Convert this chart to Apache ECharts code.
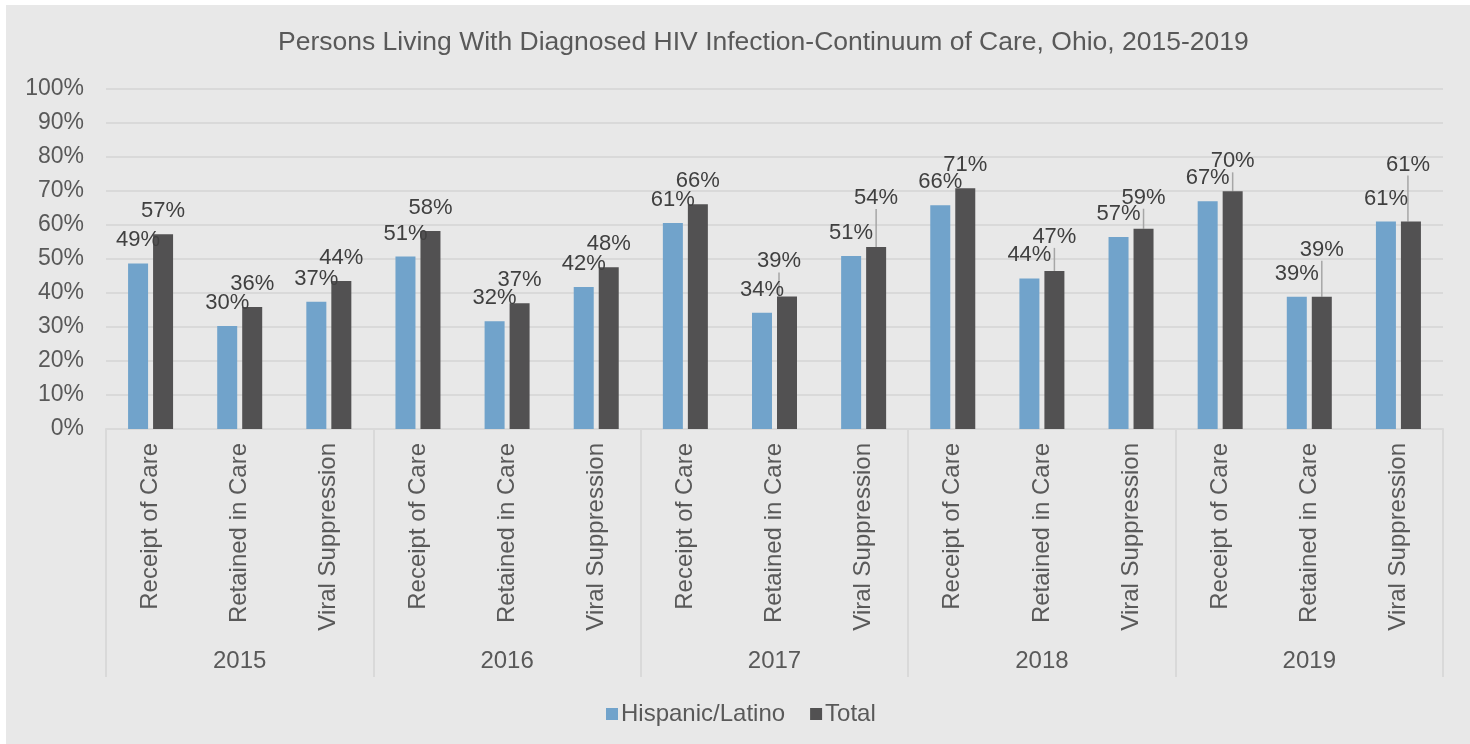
<!DOCTYPE html>
<html>
<head>
<meta charset="utf-8">
<title>Persons Living With Diagnosed HIV Infection-Continuum of Care, Ohio, 2015-2019</title>
<script src="https://cdn.jsdelivr.net/npm/echarts@6/dist/echarts.min.js"></script>
<style>
  html, body { margin: 0; padding: 0; background: #ffffff; }
  #chart { width: 1470px; height: 744px; }
</style>
</head>
<body>
<div id="chart"></div>
<script>
  var years = ['2015', '2016', '2017', '2018', '2019'];
  var stages = ['Receipt of Care', 'Retained in Care', 'Viral Suppression'];
  var yTicks = [0, 10, 20, 30, 40, 50, 60, 70, 80, 90, 100];

  // percent (year by year, stage by stage)
  var hispanic = [48.7, 30.3, 37.4, 50.7, 31.7, 41.8, 60.6, 34.2, 50.9, 65.8, 44.3, 56.5, 67.0, 38.9, 61.0];
  var total = [57.3, 35.9, 43.5, 58.2, 37.0, 47.6, 66.1, 39.0, 53.5, 70.8, 46.5, 58.9, 69.9, 38.9, 61.0];

  // extra lift of the Total labels that were dragged up in the original
  var totalLabelLift = [0, 0, 0, 0, 0, 0, 0, 12, 26, 0, 11, 8, 7, 24, 34];
  var totalLabelShift = [0, 0, 0, 0, 0, 0, 0, -8, 0, 0, 0, 0, 0, 0, -3];

  var blue = '#71a3cb';
  var dark = '#525152';
  var axisText = '#595959';
  var labelText = '#404040';
  var rule = '#d9d9d9';
  var font = '"Liberation Sans", Arial, sans-serif';

  var categories = [];
  years.forEach(function(y) {
    stages.forEach(function(s) { categories.push(s); });
  });

  var totalData = total.map(function(v, i) {
    return { value: v, labelLine: { show: totalLabelLift[i] > 0 } };
  });

  var chart = echarts.init(document.getElementById('chart'), null, { renderer: 'canvas' });
  chart.setOption({
    animation: false,
    backgroundColor: '#ffffff',
    textStyle: { fontFamily: font },
    graphic: [{
      type: 'rect', left: 6, top: 5, z: -10, silent: true,
      shape: { width: 1464, height: 739 },
      style: { fill: '#e8e8e8' }
    }],
    title: {
      text: 'Persons Living With Diagnosed HIV Infection-Continuum of Care, Ohio, 2015-2019',
      left: 273, top: 24,
      textStyle: { color: axisText, fontSize: 26.5, fontWeight: 'normal', fontFamily: font }
    },
    legend: {
      data: ['Hispanic/Latino', 'Total'],
      left: 601, top: 697,
      icon: 'rect', itemWidth: 12, itemHeight: 12, itemGap: 25,
      textStyle: { color: axisText, fontSize: 24, padding: [0, 0, 0, -2] }
    },
    grid: { left: 106, right: 27, top: 89, bottom: 315 },
    xAxis: [
      {
        type: 'category',
        data: categories,
        axisLine: { lineStyle: { color: rule, width: 2 } },
        axisTick: { show: false },
        axisLabel: { interval: 0, rotate: 90, margin: 14, color: axisText, fontSize: 24 }
      },
      {
        type: 'category',
        data: years,
        position: 'bottom',
        offset: 248,
        axisLine: { show: false },
        axisTick: { show: true, inside: true, length: 248, interval: 0, lineStyle: { color: rule, width: 2 } },
        axisLabel: { inside: true, margin: 4, color: axisText, fontSize: 24 }
      }
    ],
    yAxis: {
      type: 'value',
      min: yTicks[0],
      max: yTicks[yTicks.length - 1],
      interval: yTicks[1] - yTicks[0],
      axisLine: { show: false },
      axisTick: { show: false },
      axisLabel: { color: axisText, fontSize: 23, margin: 22, formatter: '{value}%' },
      splitLine: { lineStyle: { color: rule, width: 2 } }
    },
    series: [
      {
        name: 'Hispanic/Latino',
        type: 'bar',
        data: hispanic,
        barWidth: 20,
        barGap: '25%',
        itemStyle: { color: blue },
        label: {
          show: true, position: 'top', distance: 12,
          color: labelText, fontSize: 22,
          formatter: function(p) { return Math.round(p.value) + '%'; }
        }
      },
      {
        name: 'Total',
        type: 'bar',
        data: totalData,
        barWidth: 20,
        barGap: '25%',
        itemStyle: { color: dark },
        label: {
          show: true, position: 'top', distance: 12,
          color: labelText, fontSize: 22,
          formatter: function(p) { return Math.round(p.value) + '%'; }
        },
        labelLine: { lineStyle: { color: '#a6a6a6', width: 1.5 } },
        labelLayout: function(p) {
          return { dx: totalLabelShift[p.dataIndex], dy: -totalLabelLift[p.dataIndex] };
        }
      }
    ]
  });
  window.addEventListener('resize', function() { chart.resize(); });
</script>
</body>
</html>
